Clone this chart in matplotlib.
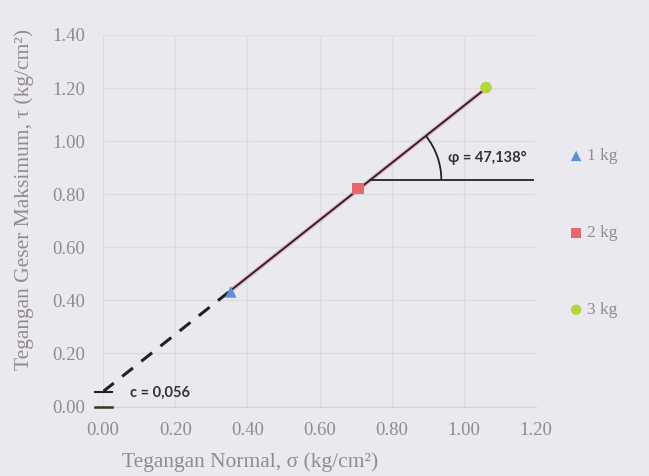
import numpy as np
import matplotlib.pyplot as plt
from matplotlib.patches import Arc

# data
beban = ['1 kg', '2 kg', '3 kg']
sigma = [0.354, 0.707, 1.061]
tau = [0.432, 0.822, 1.202]
c = 0.056
phi = 47.138

warna = ['#5b8fd8', '#e8676c', '#b3d63c']
marker = ['^', 's', 'o']
bg = '#ebe9f0'
abu = '#928a8d'

plt.rcParams['font.family'] = ['Liberation Serif', 'DejaVu Serif']

fig = plt.figure(figsize=(6.49, 4.76), dpi=100, facecolor=bg)
ax = fig.add_axes([0.1587, 0.146, 0.6675, 0.7805], facecolor=bg)

slope = np.tan(np.radians(phi))

# garis kegagalan
xs = np.array([sigma[0], sigma[-1]])
ax.plot(xs + 0.004, c + slope * xs + 0.004, color='#eaa9bd', lw=3, zorder=2)
ax.plot(xs, c + slope * xs, color='#222222', lw=1.3, zorder=3)
xd = np.array([0.0, sigma[0]])
ax.plot(xd, c + slope * xd, color='#222222', lw=2.2, ls=(0, (4.5, 3.5)), zorder=3)

# tanda c dan 0 pada sumbu
ax.plot([-0.022, 0.025], [c, c], color='#222222', lw=1.5, clip_on=False, zorder=4)
ax.plot([-0.022, 0.025], [0, 0], color='#3a3520', lw=1.8, clip_on=False, zorder=4)

# garis horizontal dan busur sudut
x0 = 0.74
y0 = c + slope * x0
ax.plot([x0, 1.19], [y0, y0], color='#222222', lw=1.3, zorder=3)
r = 71
ax.add_patch(Arc((x0, y0), 2 * r / 360.0, 2 * r / 265.7, theta1=0, theta2=phi,
                 color='#222222', lw=1.3, zorder=3))

for i in range(3):
    ax.scatter(sigma[i], tau[i], marker=marker[i], color=warna[i], s=70,
               edgecolors='none', zorder=5, label=beban[i])

ax.text(0.955, 0.935, 'φ = 47,138°', fontsize=10.5, fontweight='bold',
        family=['Lato', 'DejaVu Sans'], color='#333333', va='center')
ax.text(0.075, 0.052, 'c = 0,056', fontsize=10.5, fontweight='bold',
        family=['Lato', 'DejaVu Sans'], color='#333333', va='center')

ax.set_xlim(0, 1.2)
ax.set_ylim(0, 1.4)
ax.set_xticks(np.arange(0, 1.21, 0.2))
ax.set_yticks(np.arange(0, 1.41, 0.2))
ax.set_xticklabels(['%.2f' % v for v in np.arange(0, 1.21, 0.2)])
ax.set_yticklabels(['%.2f' % v for v in np.arange(0, 1.41, 0.2)])
ax.tick_params(length=0, labelsize=13.5, labelcolor=abu)
ax.tick_params(axis='x', pad=11)
ax.tick_params(axis='y', pad=13)
ax.grid(color='#dedbe1', lw=1)
ax.set_axisbelow(True)
for s in ['top', 'right', 'left']:
    ax.spines[s].set_visible(False)
ax.spines['bottom'].set_color('#d3d0d6')

ax.set_xlabel('Tegangan Normal, σ (kg/cm²)', fontsize=15.5, color=abu)
ax.set_ylabel('Tegangan Geser Maksimum, τ (kg/cm²)', fontsize=15.5, color=abu)
# posisi label seperti pada gambar asli
ax.xaxis.set_label_coords((250 - 103) / 433.0, -(462 - 406.5) / 371.5)
ax.yaxis.set_label_coords(-(103 - 24) / 433.0, (406.5 - 199) / 371.5)
ax.xaxis.label.set_va('center')
ax.yaxis.label.set_va('center')

ax.legend(loc='upper left', bbox_to_anchor=(1.024, 0.737), frameon=False,
          labelspacing=3.5, handletextpad=-0.2, handlelength=1.6, fontsize=12.5,
          labelcolor=abu, markerscale=0.9)

plt.savefig('out.png', dpi=100, facecolor=bg)
